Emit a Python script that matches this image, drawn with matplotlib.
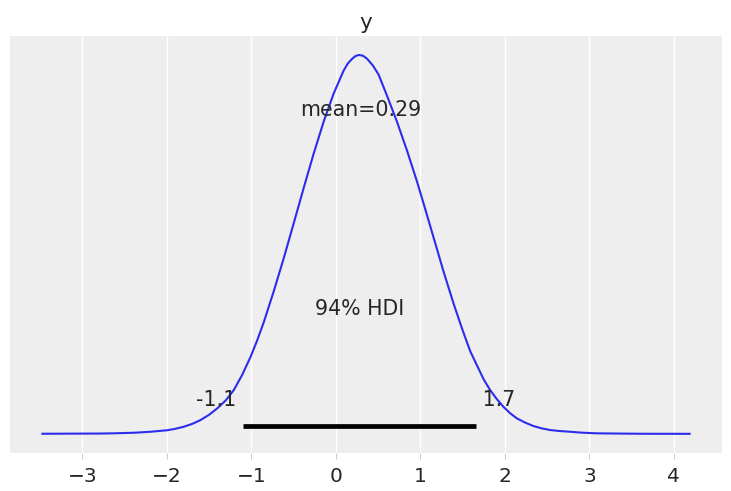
import matplotlib
matplotlib.use("Agg")
import matplotlib.pyplot as plt

# KDE curve
x_vals = [-3.473, -2.784, -2.600, -2.390, -2.193, -1.995, -1.900, -1.799, -1.700, -1.602,
          -1.500, -1.404, -1.300, -1.208, -1.110, -1.011, -0.930, -0.853, -0.735, -0.617,
          -0.499, -0.372, -0.262, -0.144, -0.026, 0.092, 0.140, 0.191, 0.230, 0.270,
          0.320, 0.369, 0.440, 0.506, 0.605, 0.723, 0.842, 0.960, 1.038, 1.156,
          1.274, 1.392, 1.492, 1.590, 1.669, 1.750, 1.826, 1.905, 1.983, 2.060, 2.142,
          2.240, 2.338, 2.430, 2.535, 2.650, 2.772, 2.900, 3.087, 3.600, 4.187]
density = [0.0004, 0.0007, 0.0011, 0.0018, 0.0032, 0.0053, 0.0073, 0.0102, 0.0142, 0.0195,
           0.0269, 0.0358, 0.0474, 0.0614, 0.0823, 0.1074, 0.1311, 0.1562, 0.1994, 0.2455,
           0.2943, 0.3473, 0.3919, 0.4365, 0.4756, 0.5077, 0.5174, 0.5240, 0.5279, 0.5296,
           0.5286, 0.5244, 0.5146, 0.5021, 0.4728, 0.4365, 0.3961, 0.3529, 0.3222, 0.2748,
           0.2273, 0.1827, 0.1478, 0.1158, 0.0962, 0.0763, 0.0614, 0.0488, 0.0381, 0.0293, 0.0219,
           0.0160, 0.0112, 0.0081, 0.0056, 0.0042, 0.0032, 0.0020, 0.0010, 0.0004, 0.0003]
mean_value = 0.29
hdi_bounds = [-1.10, 1.66]
hdi_labels = ["-1.1", "1.7"]
hdi_text = "94% HDI"
title = "y"
xticks = [-3, -2, -1, 0, 1, 2, 3, 4]

fig = plt.figure(figsize=(7.31, 4.91), dpi=100)
ax = fig.add_axes([0.0137, 0.0774, 0.974, 0.8493])
ax.set_facecolor("#eeeeee")
for s in ax.spines.values():
    s.set_visible(False)

ax.plot(x_vals, density, color="#2a2eec", lw=1.5, solid_joinstyle="round")
ax.set_ylim(-0.05 * max(density), 1.05 * max(density))
ax.set_xticks(xticks)
ax.set_yticks([])
ax.grid(True, axis="x", color="white", lw=1)
ax.set_axisbelow(True)
ax.tick_params(axis="x", length=4, color="#cccccc", labelsize=14.5, labelcolor="#262626", pad=6)

ph = ax.get_ylim()[1]
tc = "#262626"
fs = 14.8
ax.plot(hdi_bounds, [ph * 0.02, ph * 0.02], color="k", lw=3.4, solid_capstyle="butt")
ax.text(hdi_bounds[0], ph * 0.07, hdi_labels[0] + " ", ha="right", fontsize=fs, color=tc)
ax.text(hdi_bounds[1], ph * 0.07, " " + hdi_labels[1], ha="left", fontsize=fs, color=tc)
ax.text((hdi_bounds[0] + hdi_bounds[1]) / 2, ph * 0.3, hdi_text, ha="center", fontsize=fs, color=tc)
ax.text(mean_value, ph * 0.8, "mean=0.29", ha="center", fontsize=fs, color=tc)
ax.set_title(title, fontsize=15.5, color=tc, pad=5)

fig.savefig("out.png", dpi=100, facecolor="white")
